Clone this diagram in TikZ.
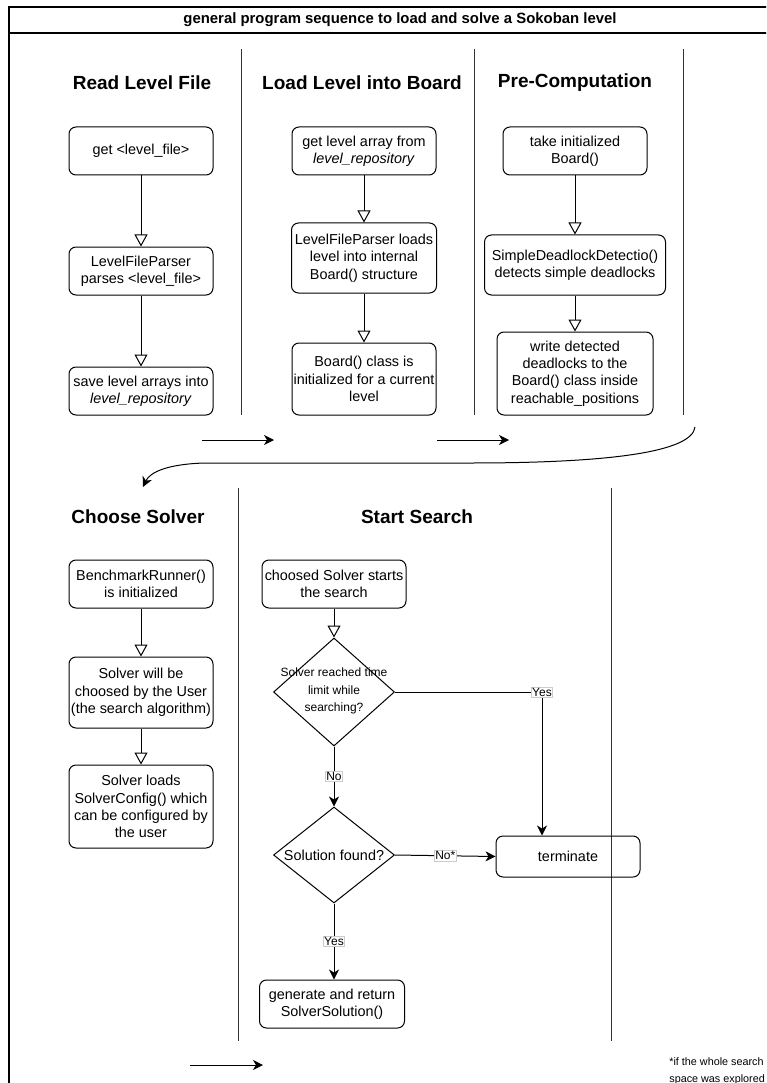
\documentclass[tikz,border=0pt]{standalone}
\usepackage{fontspec}
\setmainfont{Liberation Sans}
\usetikzlibrary{arrows.meta,shapes.geometric}
\begin{document}
\begin{tikzpicture}[x=1pt,y=-1pt,
  box/.style={draw, rounded corners=7pt, align=center, inner sep=0pt, line width=1pt,
              font=\fontsize{14.4}{17.3}\selectfont},
  lanehead/.style={font=\bfseries\fontsize{19}{22}\selectfont},
  lane/.style={draw=black!80, line width=1pt},
  openarr/.style={-{Triangle[open,length=12pt,width=13pt,fill=white]}, line width=1pt},
  fillarr/.style={-{Stealth[length=10pt,width=10pt,inset=3pt]}, line width=1pt},
  edgelbl/.style={fill=white, draw=black!20, line width=0.6pt, inner sep=1pt,
                  font=\fontsize{12}{14}\selectfont},
  decision/.style={diamond, draw, line width=1pt, inner sep=0pt},
]
\useasboundingbox (0,0) rectangle (766,1083);
\clip (0,0) rectangle (766,1083);

% outer pool frame and title row
\draw[line width=1.3pt] (9,1100) -- (9,7) -- (790,7);
\draw[line width=1.3pt] (9,33) -- (790,33);
\node[font=\bfseries\fontsize{14.9}{17}\selectfont] (title) at (400,20)
  {general program sequence to load and solve a Sokoban level};

% ---------- upper row of lanes ----------
\draw[lane] (241,49) -- (241,415);
\draw[lane] (474,49) -- (474,415);
\draw[lane] (683,49) -- (683,415);

\node[lanehead] (hread) at (142,83) {Read Level File};
\node[lanehead] (hload) at (362,83) {Load Level into Board};
\node[lanehead] (hpre)  at (575,83) {Pre-Computation};

% Read Level File
\node[box, minimum width=144pt, minimum height=48pt] (g1) at (141,151) {get <level\_file>};
\node[box, minimum width=144pt, minimum height=48pt] (p1) at (141,271) {LevelFileParser\\parses <level\_file>};
\node[box, minimum width=144pt, minimum height=48pt] (s1) at (141,391) {save level arrays into\\\textit{level\_repository}};
\draw[openarr] (g1) -- (p1);
\draw[openarr] (p1) -- (s1);

% Load Level into Board
\node[box, minimum width=144pt, minimum height=48pt] (g2) at (364,151) {get level array from\\\textit{level\_repository}};
\node[box, minimum width=145pt, minimum height=70pt] (l2) at (364,258) {LevelFileParser loads\\level into internal\\Board() structure};
\node[box, minimum width=144pt, minimum height=72pt] (b2) at (364,379) {Board() class is\\initialized for a current\\level};
\draw[openarr] (g2) -- (l2);
\draw[openarr] (l2) -- (b2);

% Pre-Computation
\node[box, minimum width=144pt, minimum height=48pt] (t3) at (575,151) {take initialized\\Board()};
\node[box, minimum width=181pt, minimum height=60pt] (d3) at (575,265) {SimpleDeadlockDetectio()\\detects simple deadlocks};
\node[box, minimum width=156pt, minimum height=83pt] (w3) at (575,373.5) {write detected\\deadlocks to the\\Board() class inside\\reachable\_positions};
\draw[openarr] (t3) -- (d3);
\draw[openarr] (d3) -- (w3);

% flow between the lanes
\coordinate (h1a) at (202,440);
\coordinate (h1b) at (274,440);
\coordinate (h2a) at (437,440);
\coordinate (h2b) at (509,440);
\draw[fillarr] (h1a) -- (h1b);
\draw[fillarr] (h2a) -- (h2b);

\coordinate (cs) at (695,427);
\coordinate (ce) at (143,487);
\draw[fillarr] (cs) .. controls (692,452) and (610,463) .. (470,463)
  -- (205,463) .. controls (168,464) and (150,472) .. (ce);

% ---------- lower row of lanes ----------
\draw[lane] (238,488) -- (238,1041);
\draw[lane] (611,488) -- (611,1041);

\node[lanehead] (hchoose) at (138,517) {Choose Solver};
\node[lanehead] (hsearch) at (417,517) {Start Search};

% Choose Solver
\node[box, minimum width=144pt, minimum height=48pt] (bm) at (141,584) {BenchmarkRunner()\\is initialized};
\node[box, minimum width=144pt, minimum height=71pt] (sv) at (141,692.5) {Solver will be\\choosed by the User\\(the search algorithm)};
\node[box, minimum width=144pt, minimum height=83pt] (sc) at (141,806.5) {Solver loads\\SolverConfig() which\\can be configured by\\the user};
\draw[openarr] (bm) -- (sv);
\draw[openarr] (sv) -- (sc);

% Start Search
\node[box, minimum width=144pt, minimum height=48pt] (st) at (334,584) {choosed Solver starts\\the search};
\node[decision, minimum width=121pt, minimum height=108pt] (dm1) at (334,692) {};
\node[align=center, font=\fontsize{12}{17.5}\selectfont] (dm1t) at (334,691) {Solver reached time\\limit while\\searching?};
\node[decision, minimum width=121pt, minimum height=96pt] (dm2) at (334,855) {};
\node[font=\fontsize{14.4}{17}\selectfont] (dm2t) at (334,855) {Solution found?};
\node[box, minimum width=144pt, minimum height=41pt] (term) at (568,856.5) {terminate};
\node[box, minimum width=145pt, minimum height=48pt] (sol) at (332,1004) {generate and return\\SolverSolution()};

\draw[openarr] (st) -- (dm1);
\coordinate (yc) at (542,692);
\draw[fillarr] (dm1.east) -- (yc) node[edgelbl] {Yes} -- (yc |- term.north);
\draw[fillarr] (dm1.south) -- node[edgelbl, pos=0.5] {No} (dm2.north);
\draw[fillarr] (dm2.east) -- node[edgelbl, pos=0.5] {No*} (term.west);
\draw[fillarr] (dm2.south) -- node[edgelbl, pos=0.5] {Yes} (dm2.south |- sol.north);

% flow out of the last lane
\coordinate (h3a) at (190,1065);
\coordinate (h3b) at (263,1065);
\draw[fillarr] (h3a) -- (h3b);

% footnote
\node[anchor=east, align=left, inner sep=0pt, font=\fontsize{10.8}{17}\selectfont] (note) at (765,1071.5)
  {*if the whole search\\space was explored};
\end{tikzpicture}
\end{document}
